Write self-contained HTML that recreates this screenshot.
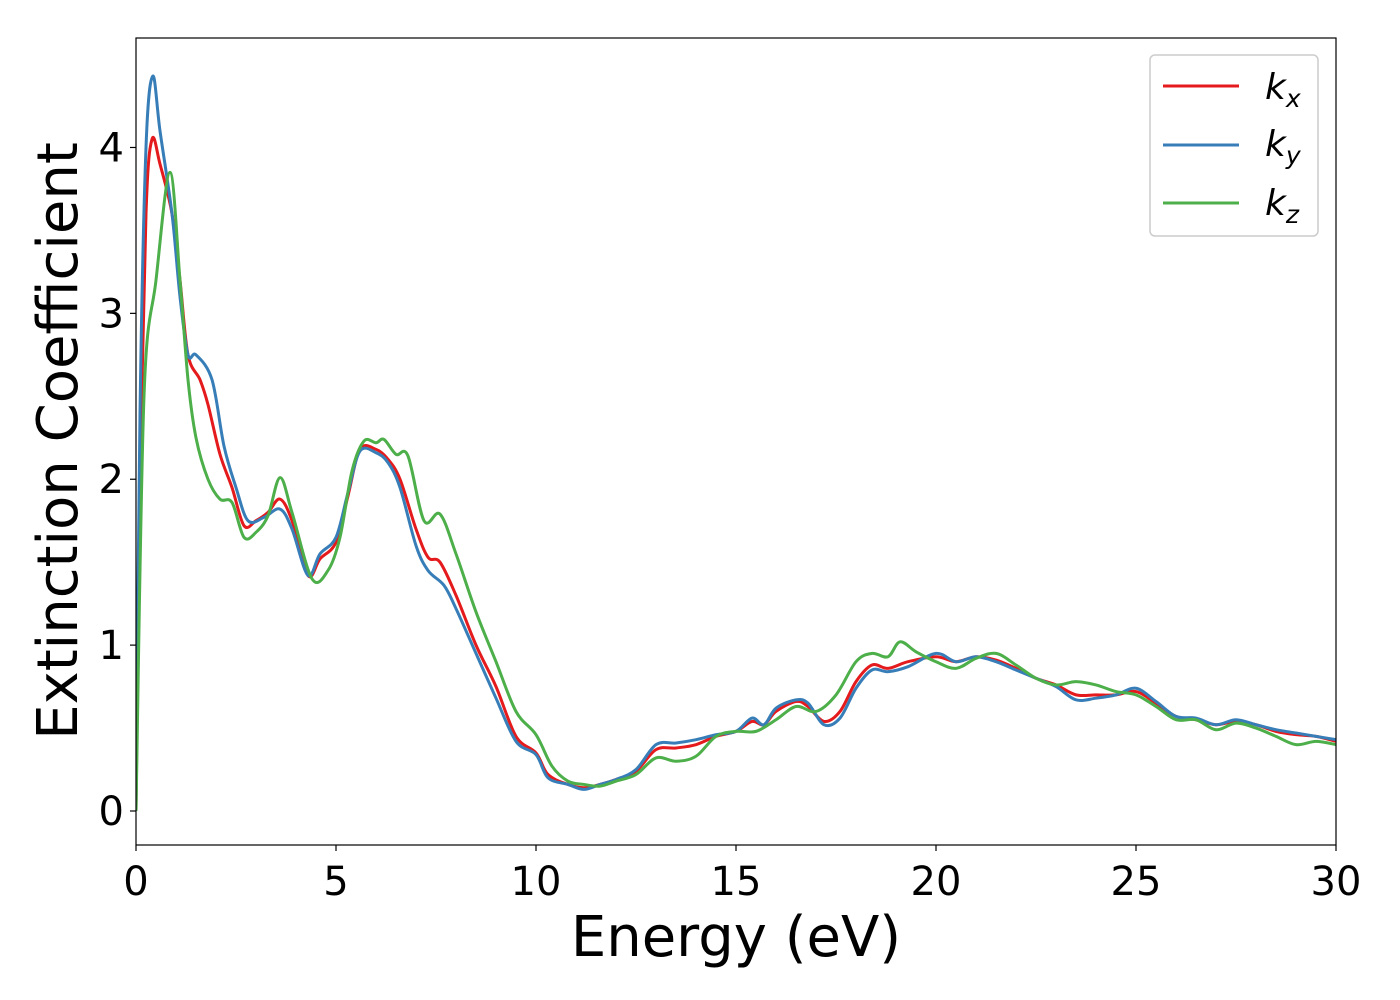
<!DOCTYPE html>
<html><head><meta charset="utf-8"><style>
body{margin:0;background:#fff;}
svg{display:block;font-family:"DejaVu Sans","Liberation Sans",sans-serif;}
</style></head><body>
<svg id="chart" width="1400" height="1000" viewBox="0 0 1400 1000" xmlns="http://www.w3.org/2000/svg">
<g id="plot"></g>
<g id="axes"></g>
<text x="736" y="956" font-size="56" text-anchor="middle">Energy (eV)</text>
<text x="0" y="0" font-size="56" text-anchor="middle" transform="translate(77,441) rotate(-90)">Extinction Coefficient</text>
<g>
<rect x="1150" y="55" width="168" height="181" rx="5" fill="#fff" stroke="#ccc" stroke-width="1.5"/>
<line x1="1163" y1="86" x2="1239" y2="86" stroke="#e41a1c" stroke-width="3"/>
<text x="1265" y="99" font-size="36" font-style="italic">k<tspan font-size="25" dy="8">x</tspan></text>
<line x1="1163" y1="145" x2="1239" y2="145" stroke="#377eb8" stroke-width="3"/>
<text x="1265" y="156" font-size="36" font-style="italic">k<tspan font-size="25" dy="8">y</tspan></text>
<line x1="1163" y1="203" x2="1239" y2="203" stroke="#4daf4a" stroke-width="3"/>
<text x="1265" y="215" font-size="36" font-style="italic">k<tspan font-size="25" dy="8">z</tspan></text>
</g>
</svg>
<script>
const xTicks=[0,5,10,15,20,25,30];
const yTicks=[0,1,2,3,4];
const kxE=[0,0.1,0.25,0.4,0.6,0.9,1.1,1.3,1.6,1.8,2.1,2.4,2.7,3.0,3.3,3.6,3.9,4.3,4.6,5.0,5.3,5.6,6.0,6.3,6.6,7.0,7.3,7.6,8.0,8.5,9.0,9.5,10.0,10.3,10.8,11.2,11.6,12.0,12.5,13.0,13.5,14.0,14.5,15.0,15.4,15.7,16.0,16.5,16.8,17.2,17.6,18.0,18.4,18.8,19.3,20.0,20.5,21.0,21.5,22.0,22.5,23.0,23.5,24.0,24.5,25.0,25.5,26.0,26.5,27.0,27.5,28.0,28.5,29.0,29.5,30];
const kxV=[0,2.0,3.6,4.05,3.9,3.6,3.2,2.75,2.6,2.45,2.15,1.95,1.72,1.75,1.8,1.88,1.75,1.42,1.52,1.62,1.9,2.18,2.18,2.12,2.0,1.7,1.53,1.5,1.3,1.0,0.75,0.45,0.35,0.22,0.16,0.14,0.16,0.19,0.24,0.37,0.38,0.4,0.45,0.48,0.54,0.52,0.6,0.66,0.63,0.54,0.6,0.78,0.88,0.86,0.9,0.93,0.9,0.93,0.91,0.86,0.8,0.76,0.7,0.7,0.7,0.72,0.65,0.57,0.55,0.52,0.54,0.52,0.48,0.46,0.45,0.42];
const kyE=[0,0.1,0.25,0.42,0.6,0.9,1.1,1.3,1.5,1.9,2.2,2.5,2.8,3.2,3.6,3.9,4.3,4.6,5.0,5.3,5.6,6.0,6.3,6.6,7.0,7.3,7.7,8.0,8.5,9.0,9.5,10.0,10.3,10.8,11.2,11.6,12.0,12.5,13.0,13.5,14.0,14.5,15.0,15.4,15.7,16.0,16.5,16.8,17.2,17.6,18.0,18.4,18.8,19.3,20.0,20.5,21.0,21.5,22.0,22.5,23.0,23.5,24.0,24.5,25.0,25.5,26.0,26.5,27.0,27.5,28.0,28.5,29.0,29.5,30];
const kyV=[0,2.4,4.0,4.43,4.1,3.6,3.1,2.75,2.75,2.6,2.2,1.95,1.75,1.77,1.82,1.7,1.42,1.55,1.65,1.92,2.17,2.16,2.1,1.95,1.6,1.45,1.36,1.22,0.95,0.68,0.42,0.34,0.2,0.16,0.13,0.16,0.19,0.25,0.4,0.41,0.43,0.46,0.48,0.56,0.52,0.62,0.67,0.65,0.52,0.56,0.74,0.85,0.84,0.87,0.95,0.9,0.93,0.9,0.85,0.8,0.75,0.67,0.68,0.7,0.74,0.66,0.57,0.56,0.52,0.55,0.52,0.49,0.47,0.45,0.43];
const kzE=[0,0.2,0.5,0.85,1.1,1.3,1.5,1.8,2.1,2.4,2.7,3.0,3.3,3.6,3.9,4.4,4.8,5.1,5.4,5.7,6.0,6.2,6.5,6.8,7.2,7.6,8.0,8.5,9.0,9.5,10.0,10.4,10.8,11.2,11.6,12.0,12.5,13.0,13.5,14.0,14.5,15.0,15.5,16.0,16.5,17.0,17.5,18.0,18.4,18.8,19.1,19.5,20.0,20.5,21.0,21.5,22.0,22.5,23.0,23.5,24.0,24.5,25.0,25.5,26.0,26.5,27.0,27.5,28.0,28.5,29.0,29.5,30];
const kzV=[0,2.5,3.2,3.85,3.2,2.6,2.25,2.0,1.88,1.86,1.65,1.68,1.78,2.01,1.8,1.4,1.45,1.65,2.05,2.23,2.22,2.24,2.15,2.14,1.75,1.79,1.55,1.2,0.9,0.6,0.46,0.27,0.18,0.16,0.15,0.18,0.22,0.32,0.3,0.33,0.45,0.48,0.48,0.55,0.63,0.6,0.7,0.9,0.95,0.93,1.02,0.96,0.9,0.86,0.92,0.95,0.88,0.8,0.76,0.78,0.76,0.72,0.7,0.63,0.55,0.55,0.49,0.53,0.5,0.45,0.4,0.42,0.4];

const X0=136,X1=1336,T=38,B=845;
const xMin=0,xMax=30,yMin=-0.205,yMax=4.66;
const sx=v=>X0+(v-xMin)/(xMax-xMin)*(X1-X0);
const sy=v=>B-(v-yMin)/(yMax-yMin)*(B-T);
const NS="http://www.w3.org/2000/svg";
function mk(t,a,p){const e=document.createElementNS(NS,t);for(const k in a)e.setAttribute(k,a[k]);p.appendChild(e);return e;}
function smooth(xs,ys){
  const P=xs.map((x,i)=>[sx(x),sy(ys[i])]);
  let d="M"+P[0][0]+","+P[0][1];
  for(let i=0;i<P.length-1;i++){
    const p0=P[Math.max(0,i-1)],p1=P[i],p2=P[i+1],p3=P[Math.min(P.length-1,i+2)];
    const c1=[p1[0]+(p2[0]-p0[0])/6,p1[1]+(p2[1]-p0[1])/6];
    const c2=[p2[0]-(p3[0]-p1[0])/6,p2[1]-(p3[1]-p1[1])/6];
    d+=" C"+c1[0]+","+c1[1]+" "+c2[0]+","+c2[1]+" "+p2[0]+","+p2[1];
  }
  return d;
}
const plot=document.getElementById('plot');
const axes=document.getElementById('axes');
const cp=mk('clipPath',{id:'clip'},plot);
mk('rect',{x:X0,y:T,width:X1-X0,height:B-T},cp);
const series=[[kxE,kxV,'#e41a1c','line-kx'],[kyE,kyV,'#377eb8','line-ky'],[kzE,kzV,'#4daf4a','line-kz']];
for(const s of series){
  const p=mk('path',{d:smooth(s[0],s[1]),fill:'none',stroke:s[2],'stroke-width':3,'clip-path':'url(#clip)'},plot);
  
  
}
const frame=mk('rect',{x:X0,y:T,width:X1-X0,height:B-T,fill:'none',stroke:'#000','stroke-width':1.2},axes);


for(const t of xTicks){
  const l=mk('line',{x1:sx(t),x2:sx(t),y1:B,y2:B+6,stroke:'#000','stroke-width':1.2},axes);
  
  
  const tx=mk('text',{x:sx(t),y:B+50,'font-size':40,'text-anchor':'middle'},axes);
  tx.textContent=t;
  
  
}
for(const t of yTicks){
  const l=mk('line',{x1:X0-6,x2:X0,y1:sy(t),y2:sy(t),stroke:'#000','stroke-width':1.2},axes);
  
  
  const tx=mk('text',{x:X0-12,y:sy(t)+14,'font-size':40,'text-anchor':'end'},axes);
  tx.textContent=t;
  
  
}
</script>
</body></html>
